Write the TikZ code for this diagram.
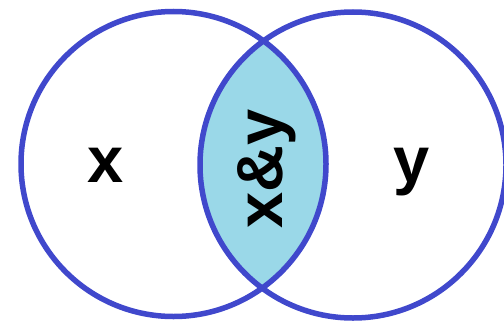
\documentclass[tikz,border=0pt]{standalone}
\usepackage{fontspec}
\setmainfont{Liberation Sans}
\definecolor{ringblue}{RGB}{64,72,204}
\definecolor{lensfill}{RGB}{154,216,232}
\begin{document}
\begin{tikzpicture}[x=1bp,y=1bp,
  ring/.style={draw=ringblue,line width=5.5bp},
  lbl/.style={font=\fontsize{65bp}{70bp}\selectfont\bfseries,inner sep=0pt,anchor=base}]
\useasboundingbox (0,0) rectangle (504,322);
\coordinate (cx) at (173.5,158);
\coordinate (cy) at (353,157);
\begin{scope}
  \clip (cx) circle[radius=152.5];
  \fill[lensfill] (cy) circle[radius=153];
\end{scope}
\draw[ring] (cx) circle[radius=152.5];
\draw[ring] (cy) circle[radius=153];
\node[lbl] (lx) at (106,139.3) {x};
\node[lbl] (ly) at (411.5,139.3) {y};
\node[lbl,rotate=90] (lxy) at (282,153) {x\&y};
\end{tikzpicture}
\end{document}
